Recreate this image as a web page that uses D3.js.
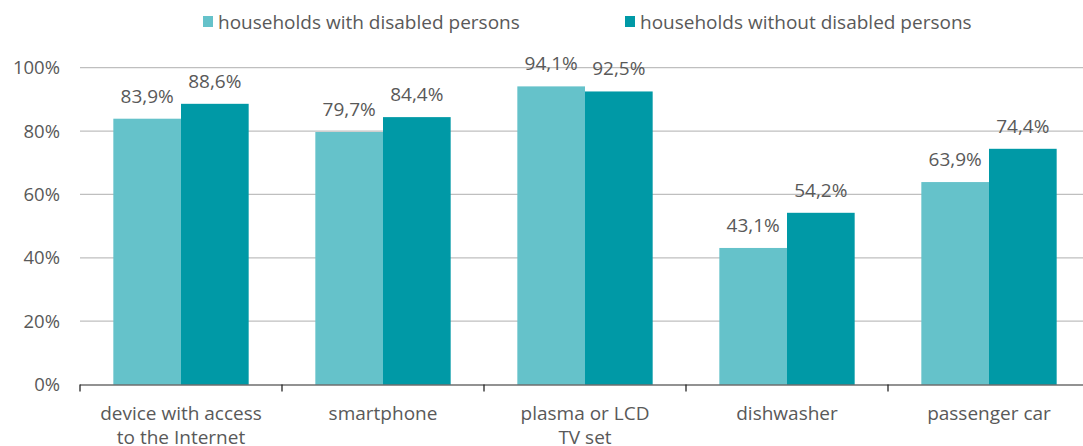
<!DOCTYPE html>
<html><head><meta charset="utf-8">
<script src="https://cdn.jsdelivr.net/npm/d3@7"></script>
<style>body{margin:0;background:#fff}svg text{font-family:"Open Sans",sans-serif;fill:#595959}</style>
</head><body><svg id="c" width="1083" height="446"></svg>
<script>
const categories = [["device with access","to the Internet"],["smartphone"],["plasma or LCD","TV set"],["dishwasher"],["passenger car"]];
const seriesNames = ["households with disabled persons","households without disabled persons"];
const withDisabled = [83.9,79.7,94.1,43.1,63.9];
const withoutDisabled = [88.6,84.4,92.5,54.2,74.4];
const yTicks = [0,20,40,60,80,100];
const colors = ["#65C2CA","#0099A6"];

const svg = d3.select("#c");
const x0 = d3.scaleBand().domain(d3.range(categories.length)).range([80,1090]).padding(0);
const bw = x0.bandwidth();
const x1 = d3.scaleBand().domain([0,1]).range([bw*0.165, bw*(1-0.165)]).padding(0);
const y = d3.scaleLinear().domain([0,100]).range([384.5,67.7]);
const fmt = v => v.toFixed(1).replace(".",",")+"%";

svg.append("g").selectAll("line").data(yTicks.filter(d=>d>0)).join("line")
  .attr("x1",80).attr("x2",1083).attr("y1",d=>y(d)).attr("y2",d=>y(d))
  .attr("stroke","#BFBFBF").attr("stroke-width",1.3);
svg.append("g").selectAll("text").data(yTicks).join("text")
  .attr("x",60).attr("y",d=>y(d)).attr("dy","0.35em").attr("text-anchor","end")
  .attr("font-size",18.5).text(d=>d+"%");

const series = [withDisabled, withoutDisabled];
const g = svg.append("g");
series.forEach((vals,si)=>{
  g.selectAll(null).data(vals).join("rect")
    .attr("x",(d,i)=>x0(i)+x1(si)).attr("width",x1.bandwidth())
    .attr("y",d=>y(d)).attr("height",d=>y(0)-y(d)).attr("fill",colors[si]);
  g.selectAll(null).data(vals).join("text")
    .attr("x",(d,i)=>x0(i)+x1(si)+x1.bandwidth()/2).attr("y",d=>y(d)-16)
    .attr("text-anchor","middle").attr("font-size",19).text(d=>fmt(d));
});

svg.append("line").attr("x1",80).attr("x2",1083).attr("y1",y(0)+0.5).attr("y2",y(0)+0.5).attr("stroke","#262626").attr("stroke-width",1.2);
svg.append("g").selectAll("line").data(d3.range(categories.length+1)).join("line")
  .attr("x1",i=>80+i*bw).attr("x2",i=>80+i*bw).attr("y1",y(0)).attr("y2",y(0)+7)
  .attr("stroke","#262626").attr("stroke-width",1.3);
const xl = svg.append("g").selectAll("text").data(categories).join("text")
  .attr("x",(d,i)=>x0(i)+bw/2).attr("y",420).attr("text-anchor","middle").attr("font-size",19);
xl.each(function(d){
  d3.select(this).selectAll("tspan").data(d).join("tspan")
    .attr("x",d3.select(this).attr("x")).attr("dy",(t,j)=>j?24:0).text(t=>t);
});

const lg = [[203,218],[625,640]];
seriesNames.forEach((n,i)=>{
  svg.append("rect").attr("x",lg[i][0]).attr("y",16).attr("width",10).attr("height",11).attr("fill",colors[i]);
  svg.append("text").attr("x",lg[i][1]).attr("y",22).attr("dy","0.35em").attr("font-size",19).text(n);
});
</script></body></html>
